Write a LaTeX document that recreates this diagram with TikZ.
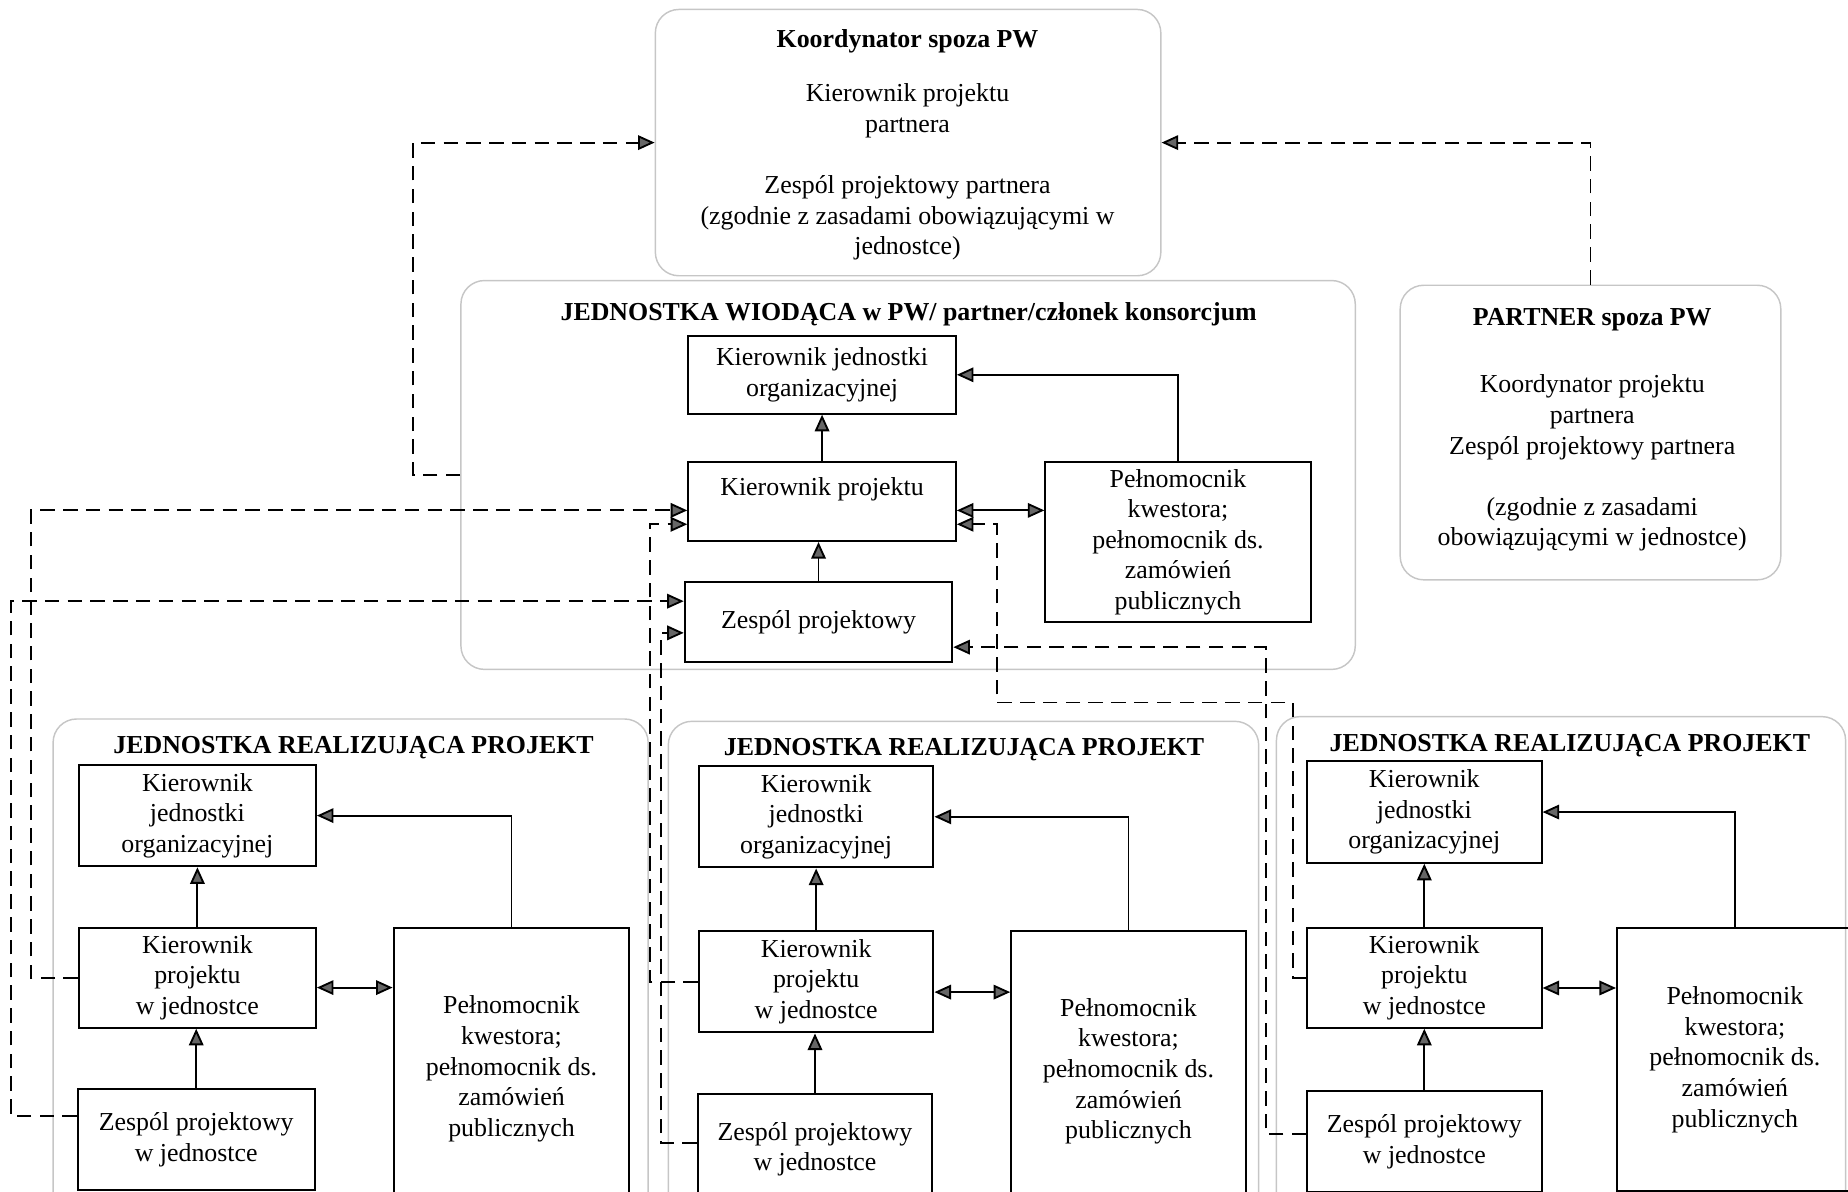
\documentclass[tikz,border=0pt]{standalone}
\usepackage{fontspec}
\setmainfont{Liberation Serif}
\usetikzlibrary{arrows.meta}

\begin{document}
\begin{tikzpicture}[x=0.02cm, y=-0.02cm,
font=\fontsize{12.5}{14.8}\selectfont,
>={Triangle[length=8pt,width=7pt,fill=black!60]},
unit/.style={draw=gray!45, line width=0.7pt, rounded corners=0.4cm},
box/.style={draw, line width=1pt, align=center, inner sep=2pt},
title/.style={font=\fontsize{12.5}{14.8}\selectfont\bfseries},
body/.style={align=center},
link/.style={line width=0.9pt},
dlink/.style={->, line width=0.9pt, dash pattern=on 7pt off 4pt}]
\par
\useasboundingbox (0,0) rectangle (1568,1011);
% ramki
\node[unit, minimum width=8.58cm, minimum height=4.52cm] (coord) at (770.5,121) {};
\node[unit, minimum width=15.18cm, minimum height=6.6cm] (lead) at (770.5,403) {};
\node[unit, minimum width=6.46cm, minimum height=5cm] (partner) at (1349.5,367) {};
\node[unit, minimum width=10.1cm, minimum height=8.6cm] (lunit) at (297.5,825) {};
\node[unit, minimum width=10.02cm, minimum height=8.56cm] (cunit) at (817.5,826) {};
\node[unit, minimum width=9.66cm, minimum height=8.64cm] (runit) at (1324.5,824) {};
\par
\node[title] (coordt) at (770,35) {Koordynator spoza PW};
\node[body] (coordb) at (770,146) {Kierownik projektu\\partnera\\[14.8pt]Zespól projektowy partnera\\(zgodnie z zasadami obowiązującymi w\\jednostce)};
\node[title] (partnert) at (1351,271) {PARTNER spoza PW};
\node[body] (partnerb) at (1351,393) {Koordynator projektu\\partnera\\Zespól projektowy partnera\\[14.8pt](zgodnie z zasadami\\obowiązującymi w jednostce)};
\node[title] (leadt) at (771,267) {JEDNOSTKA WIODĄCA w PW/ partner/członek konsorcjum};
\node[title] (lunitt) at (300,634) {JEDNOSTKA REALIZUJĄCA PROJEKT};
\node[title] (cunitt) at (818,636) {JEDNOSTKA REALIZUJĄCA PROJEKT};
\node[title] (runitt) at (1332,633) {JEDNOSTKA REALIZUJĄCA PROJEKT};
\par
% jednostka wiodaca
\node[box, minimum width=4.54cm, minimum height=1.32cm] (mkjo) at (697.5,318) {Kierownik jednostki\\organizacyjnej};
\node[box, minimum width=4.54cm, minimum height=1.34cm] (mkp) at (697.5,425.5) {Kierownik projektu\\~};
\node[box, minimum width=4.54cm, minimum height=1.36cm] (mzp) at (694.5,528) {Zespól projektowy};
\node[box, minimum width=4.5cm, minimum height=2.72cm] (mpel) at (999.5,460) {Pełnomocnik\\kwestora;\\pełnomocnik ds.\\zamówień\\publicznych};
\par
% jednostki realizujace
\node[box, minimum width=4.02cm, minimum height=1.72cm] (lkjo) at (167.5,692) {Kierownik\\jednostki\\organizacyjnej};
\node[box, minimum width=4.02cm, minimum height=1.7cm] (lkp) at (167.5,829.5) {Kierownik\\projektu\\w jednostce};
\node[box, minimum width=4.02cm, minimum height=1.72cm] (lzp) at (166.5,967) {Zespól projektowy\\w jednostce};
\node[box, minimum width=4cm, minimum height=4.8cm] (lpel) at (434,907) {Pełnomocnik\\kwestora;\\pełnomocnik ds.\\zamówień\\publicznych};
\par
\node[box, minimum width=3.98cm, minimum height=1.72cm] (ckjo) at (692.5,693) {Kierownik\\jednostki\\organizacyjnej};
\node[box, minimum width=3.98cm, minimum height=1.72cm] (ckp) at (692.5,833) {Kierownik\\projektu\\w jednostce};
\node[box, minimum width=3.98cm, minimum height=1.88cm] (czp) at (691.5,975) {Zespól projektowy\\w jednostce};
\node[box, minimum width=3.98cm, minimum height=4.76cm] (cpel) at (957.5,909) {Pełnomocnik\\kwestora;\\pełnomocnik ds.\\zamówień\\publicznych};
\par
\node[box, minimum width=3.98cm, minimum height=1.72cm] (rkjo) at (1208.5,689) {Kierownik\\jednostki\\organizacyjnej};
\node[box, minimum width=3.98cm, minimum height=1.7cm] (rkp) at (1208.5,829.5) {Kierownik\\projektu\\w jednostce};
\node[box, minimum width=3.98cm, minimum height=1.7cm] (rzp) at (1208.5,968.5) {Zespól projektowy\\w jednostce};
\node[box, minimum width=4cm, minimum height=4.48cm] (rpel) at (1472,899) {Pełnomocnik\\kwestora;\\pełnomocnik ds.\\zamówień\\publicznych};
\par
% podleglosc
\draw[link,->] (mkp.north) -- (mkjo.south);
\draw[link,->] (mzp.north) -- (mzp.north |- mkp.south);
\draw[link,<->] ([yshift=-4.3pt]mkp.east) -- ([yshift=-4.3pt]mkp.east -| mpel.west);
\draw[link,->] (mpel.north) |- (mkjo.east);
\draw[link,->] (lkp.north) -- (lkjo.south);
\draw[link,->] (lzp.north) -- (lzp.north |- lkp.south);
\draw[link,<->] ([yshift=-4.8pt]lkp.east) -- ([yshift=-4.8pt]lkp.east -| lpel.west);
\draw[link,->] (lpel.north) |- (lkjo.east);
\draw[link,->] (ckp.north) -- (ckjo.south);
\draw[link,->] (czp.north) -- (czp.north |- ckp.south);
\draw[link,<->] ([yshift=-5pt]ckp.east) -- ([yshift=-5pt]ckp.east -| cpel.west);
\draw[link,->] (cpel.north) |- (ckjo.east);
\draw[link,->] (rkp.north) -- (rkjo.south);
\draw[link,->] (rzp.north) -- (rzp.north |- rkp.south);
\draw[link,<->] ([yshift=-5pt]rkp.east) -- ([yshift=-5pt]rkp.east -| rpel.west);
\draw[link,->] (rpel.north) |- (rkjo.east);
\par
% powiazania
\coordinate (eturn) at (846,596);
\draw[dlink] (lead.west) -- ++(-40,0) |- (coord.west);
\draw[dlink] (partner.north) |- (coord.east);
\draw[dlink] (lkp.west) -- ++(-40,0) |- ([yshift=-4.3pt]mkp.west);
\draw[dlink] ([yshift=11.4pt]lzp.west) -- ++(-56,0) |- ([yshift=10.2pt]mzp.west);
\draw[dlink] (ckp.west) -- ++(-41,0) |- ([yshift=-11pt]mkp.west);
\draw[dlink] ([yshift=2.8pt]czp.west) -- ++(-30,0) |- ([yshift=-5.1pt]mzp.west);
\draw[dlink] (rkp.west) -- ++(-11,0) |- (eturn) |- ([yshift=-11pt]mkp.east);
\draw[dlink] ([yshift=3.7pt]rzp.west) -- ++(-34,0) |- ([yshift=-12pt]mzp.east);
\par
\end{tikzpicture}
\end{document}
